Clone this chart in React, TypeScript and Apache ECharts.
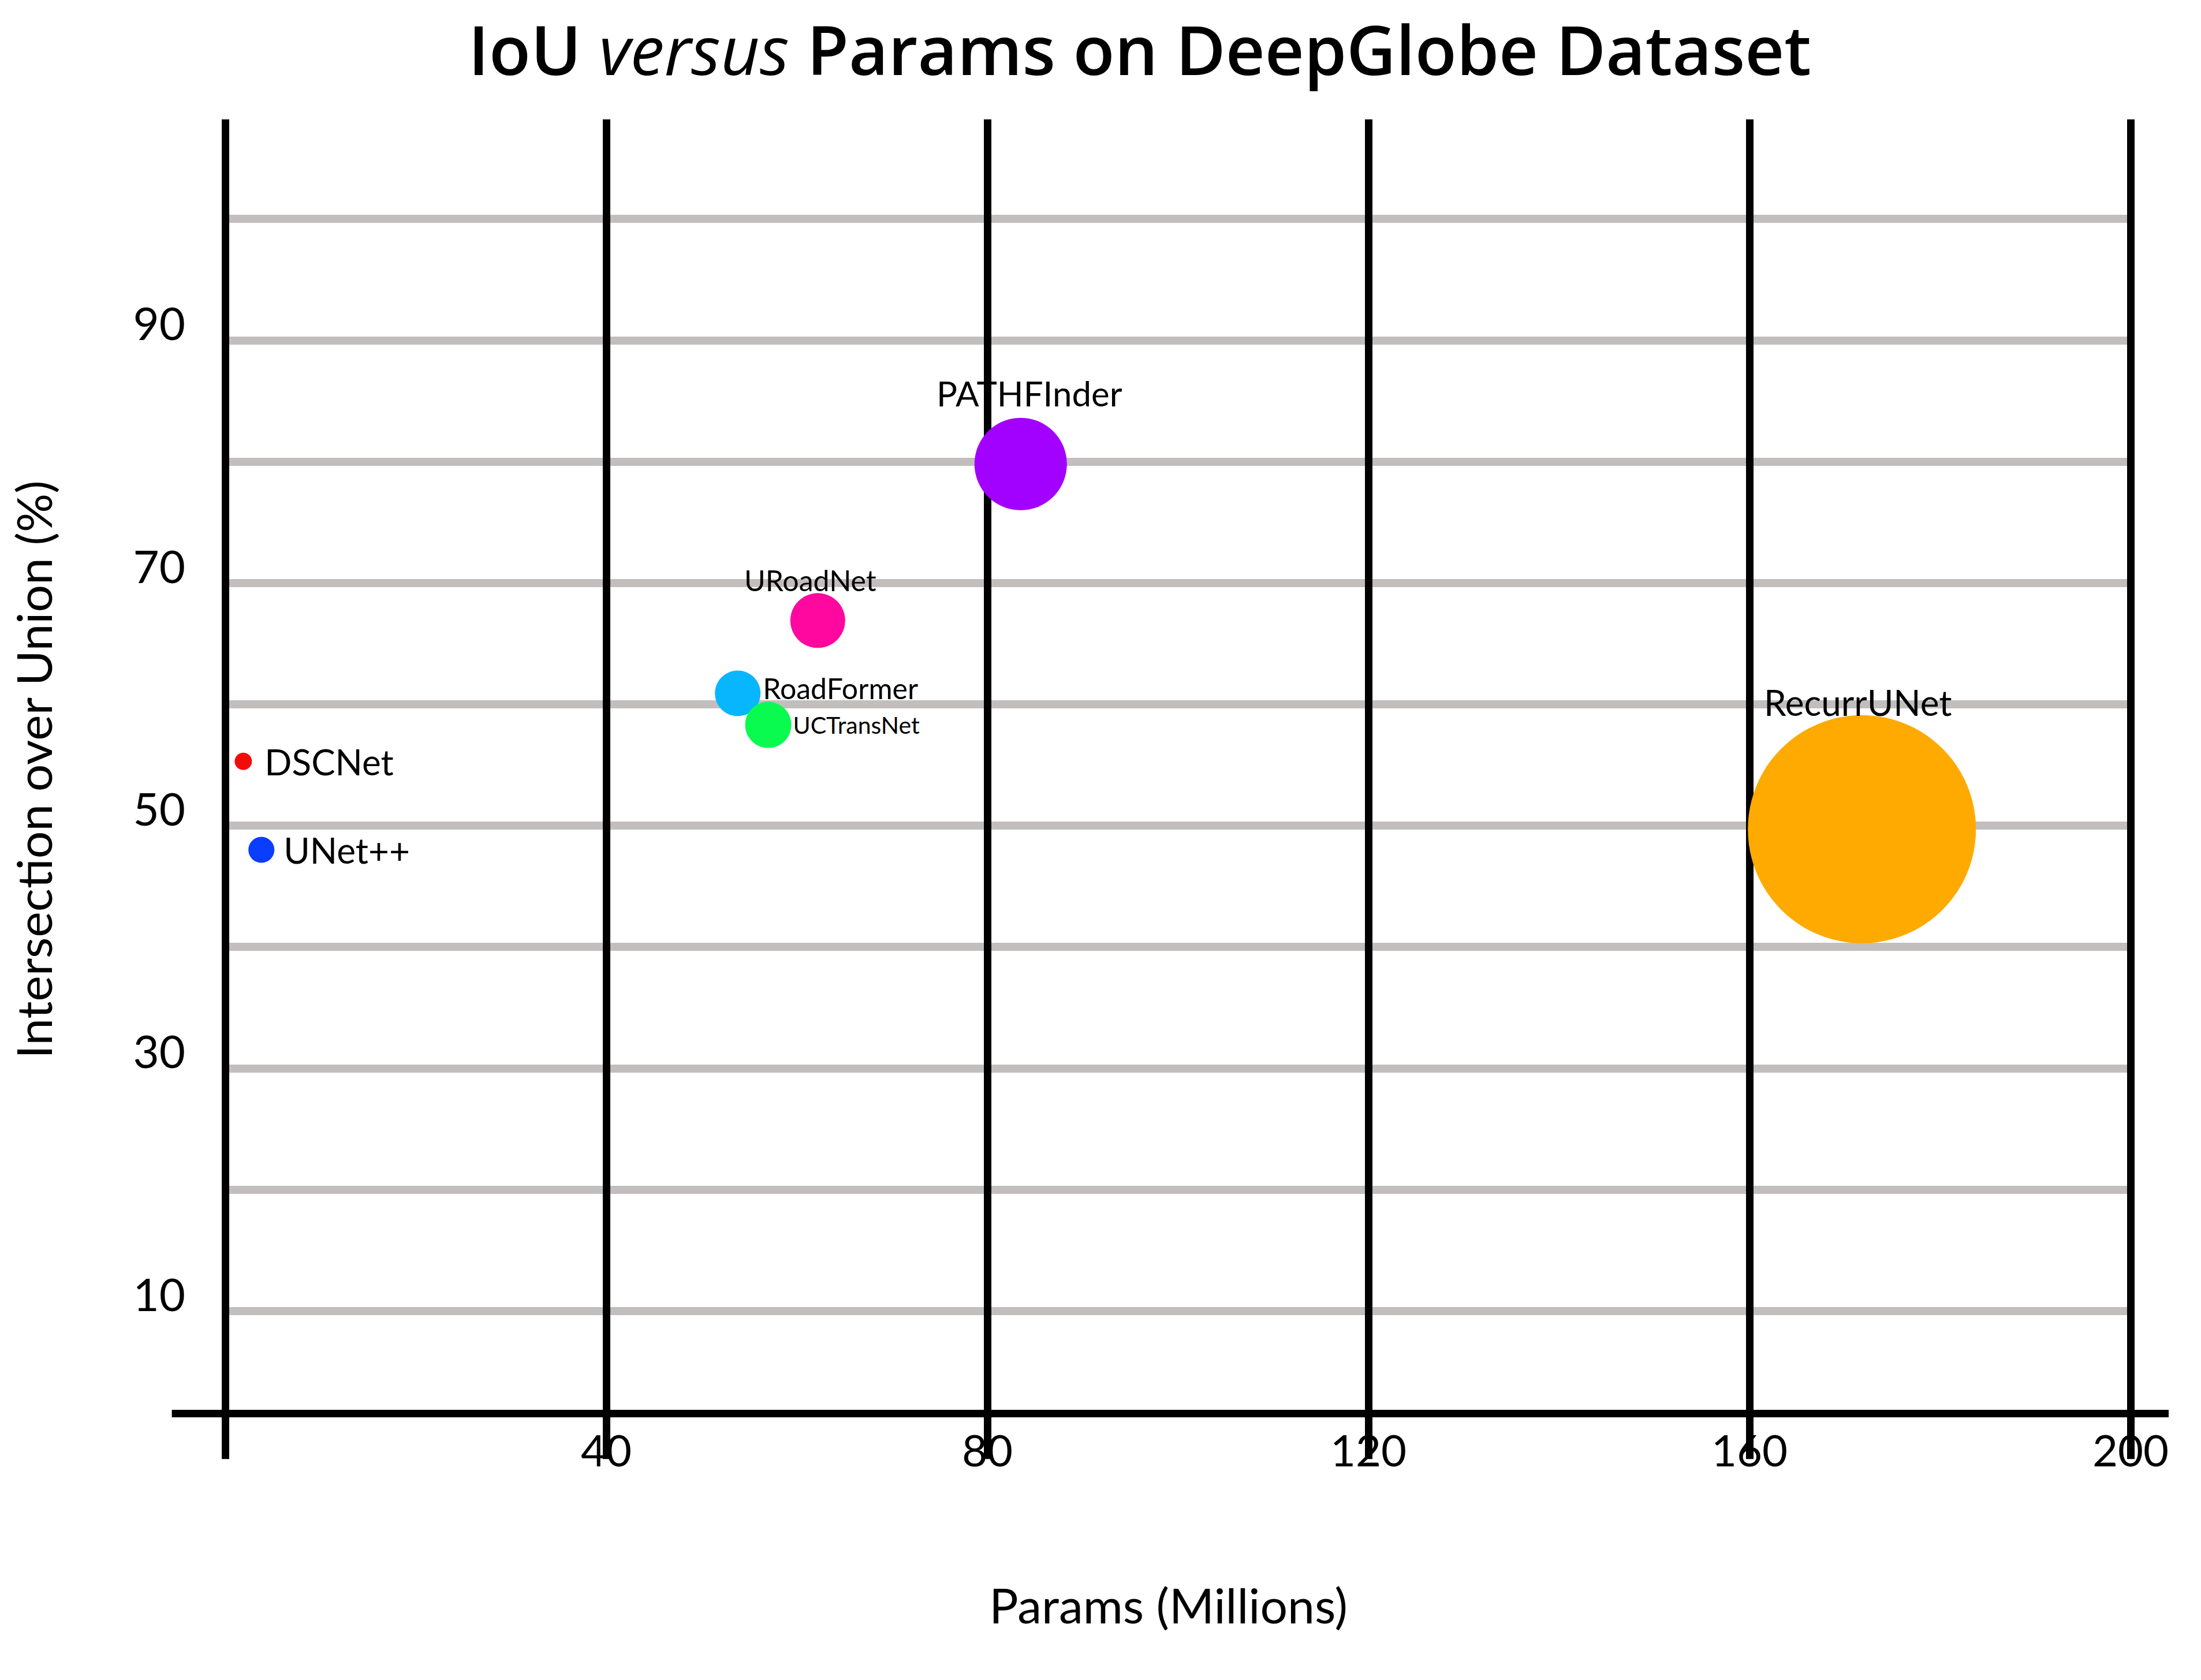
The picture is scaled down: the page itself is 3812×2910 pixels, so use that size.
import React, { useEffect, useRef } from 'react';
import * as echarts from 'echarts';

// ---- data ----
const models = ['DSCNet', 'UNet++', 'RoadFormer', 'UCTransNet', 'URoadNet', 'PATHFInder', 'RecurrUNet'];
const paramsMillions = [1.9, 3.8, 53.8, 57.0, 62.2, 83.5, 171.8];
const iouPercent = [55.3, 48.0, 60.9, 58.3, 66.9, 79.8, 49.7];
const bubbleMagnitude = [30, 45, 79, 80, 95, 160, 395];
const xTickLabels = [40, 80, 120, 160, 200];
const yTickLabels = [10, 30, 50, 70, 90];
const xGridValues = [0, 40, 80, 120, 160, 200];
const yGridValues = [10, 20, 30, 40, 50, 60, 70, 80, 90, 100];

// ---- styles ----
const modelColors = ['#f50a0a', '#0a3dff', '#08b6fd', '#09fb4f', '#ff089f', '#a200ff', '#ffaa00'];
const labelStyles: any[] = [
  { position: 'right', distance: 22, fontSize: 62 },
  { position: 'right', distance: 16, fontSize: 62 },
  { position: 'right', distance: 4, fontSize: 50, offset: [0, -9] },
  { position: 'right', distance: 3, fontSize: 41 },
  { position: 'top', distance: -3, fontSize: 50, offset: [-13, 0] },
  { position: 'top', distance: 13, fontSize: 60, offset: [15, 0] },
  { position: 'top', distance: -8, fontSize: 62, offset: [-7, 0] },
];

const FONT = 'Lato';

export default function App() {
  const ref = useRef<HTMLDivElement>(null);
  useEffect(() => {
    if (!ref.current) return;
    const chart = echarts.init(ref.current, null, { renderer: 'svg' });
    const option: any = {
      animation: false,
      backgroundColor: '#ffffff',
      textStyle: { fontFamily: FONT, color: '#000' },
      title: {
        text: '{b|IoU }{i|versus}{b| Params on DeepGlobe Dataset}',
        left: 1974,
        textAlign: 'center',
        top: 22,
        padding: 0,
        textStyle: {
          lineHeight: 124,
          rich: {
            b: { fontFamily: 'Open Sans', fontWeight: 600, fontSize: 118, lineHeight: 124, color: '#000' },
            i: { fontFamily: 'Open Sans', fontStyle: 'italic', fontWeight: 400, fontSize: 118, lineHeight: 124, color: '#000' },
          },
        },
      },
      grid: { left: 291, right: 56, top: 190, bottom: 366, containLabel: false },
      xAxis: {
        type: 'value',
        min: -6,
        max: 204,
        interval: 2,
        name: 'Params (Millions)',
        nameLocation: 'middle',
        nameGap: 193,
        nameTextStyle: { fontSize: 84, fontFamily: FONT, color: '#000' },
        axisLine: { show: false },
        axisTick: { show: false },
        splitLine: { show: false },
        axisLabel: {
          margin: -72,
          fontSize: 76,
          color: '#000',
          fontFamily: FONT,
          showMinLabel: true,
          showMaxLabel: true,
          formatter: (v: number) => (xTickLabels.includes(Math.round(v)) && Math.abs(v - Math.round(v)) < 1e-6 ? String(Math.round(v)) : ''),
        },
      },
      yAxis: {
        type: 'value',
        min: -3,
        max: 109,
        interval: 1,
        name: 'Intersection over Union (%)',
        nameLocation: 'middle',
        nameGap: 192,
        nameTextStyle: { fontSize: 84, fontFamily: FONT, color: '#000', padding: [0, 0, 0, 68] },
        axisLine: { show: false },
        axisTick: { show: false },
        splitLine: { show: false },
        axisLabel: {
          margin: -30,
          align: 'right',
          verticalAlign: 'bottom',
          lineHeight: 60,
          fontSize: 78,
          color: '#000',
          fontFamily: FONT,
          formatter: (v: number) => (yTickLabels.includes(Math.round(v)) && Math.abs(v - Math.round(v)) < 1e-6 ? String(Math.round(v)) : ''),
        },
      },
      series: [
        {
          type: 'scatter',
          data: [],
          z: 1,
          silent: true,
          markLine: {
            z: 1,
            silent: true,
            symbol: ['none', 'none'],
            label: { show: false },
            emphasis: { disabled: true },
            lineStyle: { color: '#c2bebd', width: 14, type: 'solid' },
            data: yGridValues.map((v) => [{ coord: [0, v] }, { coord: [200, v] }]),
          },
        },
        {
          type: 'scatter',
          data: [],
          z: 2,
          silent: true,
          markLine: {
            z: 2,
            silent: true,
            symbol: ['none', 'none'],
            label: { show: false },
            emphasis: { disabled: true },
            lineStyle: { color: '#000000', width: 13, type: 'solid' },
            data: [
              ...xGridValues.map((v) => [{ coord: [v, -2.2] }, { coord: [v, 108.2] }]),
              [{ coord: [-5.6, 1.57] }, { coord: [204, 1.57] }],
            ],
          },
        },
        {
          type: 'scatter',
          z: 10,
          symbol: 'circle',
          symbolSize: (val: number[]) => val[2],
          data: models.map((m, i) => ({
            name: m,
            value: [paramsMillions[i], iouPercent[i], bubbleMagnitude[i]],
            itemStyle: { color: modelColors[i], opacity: 1 },
            label: {
              show: true,
              formatter: '{b}',
              color: '#000',
              fontFamily: FONT,
              ...labelStyles[i],
            },
          })),
        },
      ],
    };
    chart.setOption(option);
    return () => chart.dispose();
  }, []);
  return <div ref={ref} style={{ position: 'fixed', left: 0, top: 0, width: 3812, height: 2910 }} />;
}
